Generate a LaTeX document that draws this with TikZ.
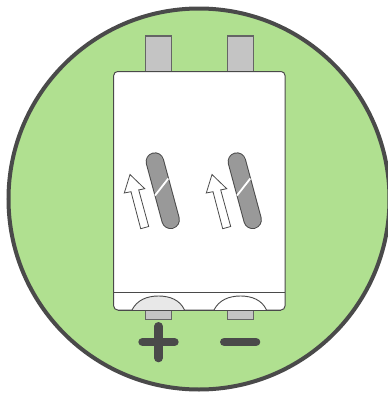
\documentclass[tikz,border=0pt]{standalone}
\definecolor{bgreen}{HTML}{B0E090}
\definecolor{dk}{HTML}{4A4A4A}
\definecolor{tabg}{HTML}{C4C4C4}
\definecolor{capg}{HTML}{999999}
\definecolor{domeg}{HTML}{E8E8E8}
\tikzset{
  ringline/.style={draw=dk,line width=4pt,fill=bgreen},
  tabbox/.style={draw=dk!85,line width=1.1pt,fill=tabg},
  bodybox/.style={draw=dk,line width=1pt,fill=white,rounded corners=4pt},
  thin line/.style={draw=dk,line width=0.9pt},
  capouter/.style={draw=dk,line width=18.5pt,line cap=round},
  capinner/.style={draw=capg,line width=16.5pt,line cap=round},
  arrowshape/.style={draw=dk,line width=0.8pt,fill=white,line join=miter},
  signbar/.style={draw=dk,line width=8.6pt,line cap=round},
}
\begin{document}
\begin{tikzpicture}[x=1pt,y=-1pt]
\useasboundingbox (0,0) rectangle (388,394);
\clip (0,0) rectangle (388,394);
\fill[white] (0,0) rectangle (388,394);
\draw[ringline] (199,199) circle (190.5);
% top tabs
\draw[tabbox] (145.5,73) rectangle (171.5,36);
\draw[tabbox] (227.5,73) rectangle (253.5,36);
% bottom tabs
\draw[tabbox] (145.5,309) rectangle (171.5,319.5);
\draw[tabbox] (227.5,309) rectangle (253.5,319.5);
% body
\draw[bodybox] (113.7,71.5) rectangle (285,310);
\draw[thin line] (113.7,292.3) -- (285,292.3);
% domes
\draw[thin line,fill=domeg] (132,310) .. controls (137,300) and (147,296) .. (158.5,296) .. controls (170,296) and (180,300) .. (184.5,310);
\draw[thin line,fill=white] (214,310) .. controls (219,300) and (229,296) .. (240.5,296) .. controls (252,296) and (262,300) .. (266.5,310);
\draw[thin line] (118,310) -- (281,310);
% capsules and arrows
\foreach \dx in {0,82}{
  \begin{scope}[xshift=\dx pt]
    \draw[capouter] (154.9,161.6) -- (170.6,219.8);
    \draw[capinner] (154.9,161.6) -- (170.6,219.8);
    \draw[white,line width=1.8pt] (155,195.5) -- (168.3,178.5);
    \draw[arrowshape] (130,174.5) -- (144.7,188.7) -- (138.7,189.9) -- (148.7,226.5) -- (140.7,228.7) -- (131,191.7) -- (124.3,193) -- cycle;
  \end{scope}
}
% signs
\draw[signbar] (142.6,342) -- (174.4,342);
\draw[signbar] (158.5,326.3) -- (158.5,358);
\draw[signbar] (224.3,342) -- (256,342);
\end{tikzpicture}
\end{document}
